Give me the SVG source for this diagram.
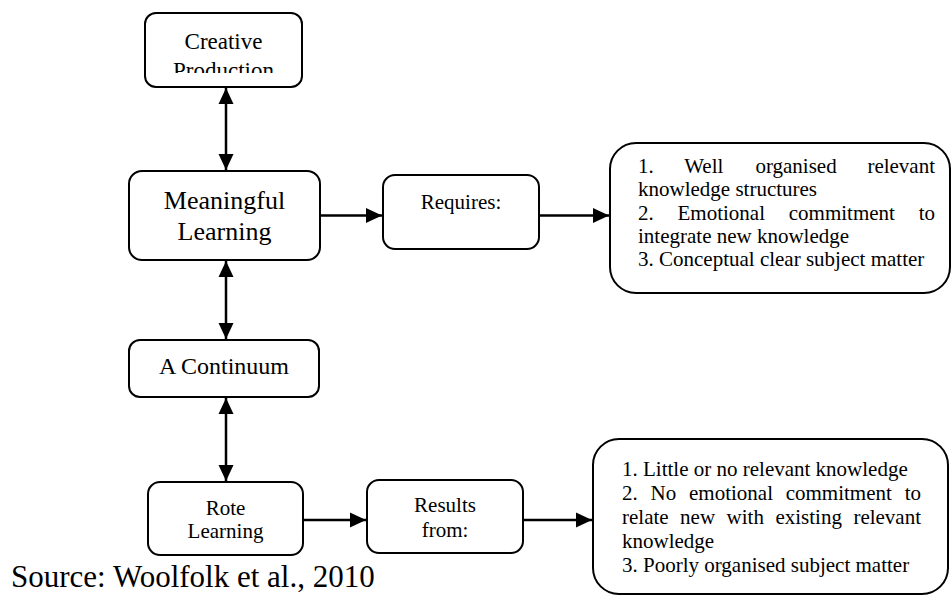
<svg xmlns="http://www.w3.org/2000/svg" width="952" height="596" viewBox="0 0 952 596">
<style>
.box{fill:#fff;stroke:#000;stroke-width:2}
.lbl{fill:#000;font-family:'Liberation Serif','Times New Roman',serif}
.mid{text-anchor:middle}
.con{stroke:#000;stroke-width:2.5;fill:none}
</style>
<defs>
<marker id="ah" markerUnits="userSpaceOnUse" markerWidth="16" markerHeight="16" viewBox="0 0 16 16" refX="16" refY="8" orient="auto-start-reverse">
<path d="M0,0.5 L16,8 L0,15.5 z" fill="#000"/>
</marker>
<clipPath id="clipCP"><rect x="145" y="13" width="157" height="60"/></clipPath>
</defs>
<rect width="952" height="596" fill="#fff"/>
<g id="connectors">
<line class="con" x1="226" y1="88" x2="226" y2="170" marker-start="url(#ah)" marker-end="url(#ah)"/>
<line class="con" x1="226" y1="261" x2="226" y2="339" marker-start="url(#ah)" marker-end="url(#ah)"/>
<line class="con" x1="226" y1="398" x2="226" y2="481" marker-start="url(#ah)" marker-end="url(#ah)"/>
<line class="con" x1="320" y1="215.5" x2="382" y2="215.5" marker-end="url(#ah)"/>
<line class="con" x1="539" y1="215.5" x2="609" y2="215.5" marker-end="url(#ah)"/>
<line class="con" x1="303" y1="520" x2="366" y2="520" marker-end="url(#ah)"/>
<line class="con" x1="523" y1="520" x2="592" y2="520" marker-end="url(#ah)"/>
</g>
<g id="creative">
<rect class="box" x="145" y="13" width="157" height="74" rx="11"/>
<g clip-path="url(#clipCP)">
<text class="lbl mid" x="223.5" y="49" font-size="23">Creative</text>
<text class="lbl mid" x="223.5" y="78" font-size="23">Production</text>
</g>
</g>
<g id="meaningful">
<rect class="box" x="129" y="171" width="191" height="89" rx="13"/>
<text class="lbl mid" x="224.5" y="209" font-size="26">Meaningful</text>
<text class="lbl mid" x="224.5" y="240" font-size="26">Learning</text>
</g>
<g id="requires">
<rect class="box" x="383" y="175" width="156" height="74" rx="12"/>
<text class="lbl mid" x="461" y="209" font-size="21">Requires:</text>
</g>
<g id="req-list">
<rect class="box" x="610" y="143" width="340" height="150" rx="26"/>
<text class="lbl" font-size="21" y="173"><tspan x="638">1.</tspan><tspan x="684.2">Well</tspan><tspan x="755.4">organised</tspan><tspan x="867.4">relevant</tspan></text>
<text class="lbl" font-size="21" x="638" y="196">knowledge structures</text>
<text class="lbl" font-size="21" y="220"><tspan x="638">2.</tspan><tspan x="677.5">Emotional</tspan><tspan x="788.8">commitment</tspan><tspan x="918.7">to</tspan></text>
<text class="lbl" font-size="21" x="638" y="243">integrate new knowledge</text>
<text class="lbl" font-size="21" x="638" y="266">3. Conceptual clear subject matter</text>
</g>
<g id="continuum">
<rect class="box" x="129" y="340" width="190" height="57" rx="11"/>
<text class="lbl mid" x="224" y="374" font-size="24">A Continuum</text>
</g>
<g id="rote">
<rect class="box" x="148" y="482" width="155" height="73" rx="12"/>
<text class="lbl mid" x="225.5" y="515" font-size="21">Rote</text>
<text class="lbl mid" x="225.5" y="538" font-size="21">Learning</text>
</g>
<g id="results">
<rect class="box" x="367" y="480" width="156" height="73" rx="12"/>
<text class="lbl mid" x="445" y="512" font-size="21">Results</text>
<text class="lbl mid" x="445" y="537" font-size="21">from:</text>
</g>
<g id="results-list">
<rect class="box" x="593" y="439" width="355" height="155" rx="26"/>
<text class="lbl" font-size="21" x="622" y="476">1. Little or no relevant knowledge</text>
<text class="lbl" font-size="21" y="500"><tspan x="622">2.</tspan><tspan x="650.5">No</tspan><tspan x="689">emotional</tspan><tspan x="785.7">commitment</tspan><tspan x="904.7">to</tspan></text>
<text class="lbl" font-size="21" y="524"><tspan x="622">relate</tspan><tspan x="680.1">new</tspan><tspan x="726.6">with</tspan><tspan x="775.4">existing</tspan><tspan x="853.4">relevant</tspan></text>
<text class="lbl" font-size="21" x="622" y="548">knowledge</text>
<text class="lbl" font-size="21" x="622" y="572">3. Poorly organised subject matter</text>
</g>
<g id="source">
<text class="lbl" x="11" y="587" font-size="31">Source: Woolfolk et al., 2010</text>
</g>
</svg>
